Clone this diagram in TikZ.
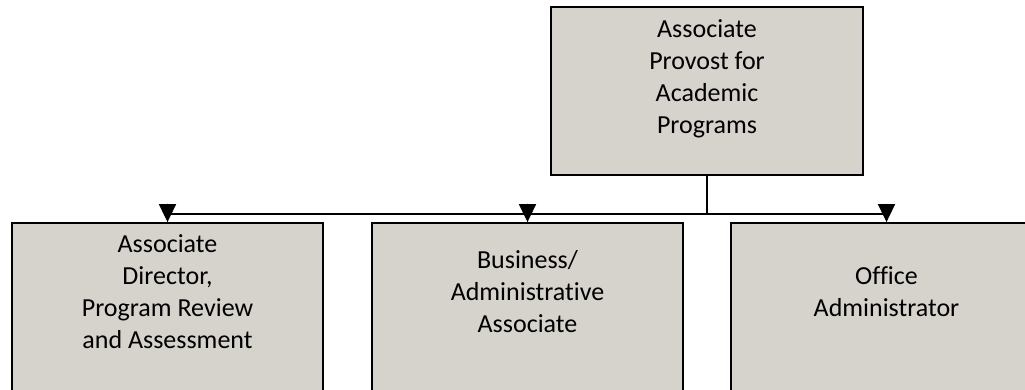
\documentclass[tikz,border=0pt]{standalone}
\usepackage{fontspec}
\setmainfont[Ligatures=NoCommon]{Carlito}
\usepackage{tikz}
\usetikzlibrary{arrows.meta}
\definecolor{boxgray}{RGB}{214,210,204}
\tikzset{
  orgbox/.style={draw=black,fill=boxgray,line width=1.8pt,inner sep=0pt,minimum width=311pt},
  orgtext/.style={align=center,inner sep=0pt,font=\fontsize{26}{32}\selectfont},
  orgline/.style={line width=1.8pt}
}

\begin{document}
\begin{tikzpicture}[line cap=round,>={Triangle[length=18pt,width=17pt]},x=1pt,y=1pt]
\useasboundingbox (0,0) rectangle (1025,390);
\clip (0,0) rectangle (1025,390);
% boxes
\node[orgbox,minimum width=312pt,minimum height=168pt] (apap) at (707,299) {};
\node[orgbox,minimum height=185pt] (adpr) at (167.5,74.5) {};
\node[orgbox,minimum height=185pt] (baa) at (527.5,74.5) {};
\node[orgbox,minimum height=185pt] (offadm) at (886.5,74.5) {};
% texts
\node[orgtext] (apaptext) at ([yshift=12pt]apap.center) {Associate\\Provost for\\Academic\\Programs};
\node[orgtext] (adprtext) at (167.5,98) {Associate\\Director,\\Program Review\\and Assessment};
\node[orgtext] (baatext) at (527.5,98) {Business/\\Administrative\\Associate};
\node[orgtext] (offadmtext) at (886.5,98) {Office\\Administrator};
% connectors
\coordinate (split) at (707,176);
\draw [orgline] (apap.south) -- (split);
\draw [orgline] (adpr.north |- split) -- (offadm.north |- split);
\draw [orgline,->] (adpr.north |- split) -- (adpr.north);
\draw [orgline,->] (baa.north |- split) -- (baa.north);
\draw [orgline,->] (offadm.north |- split) -- (offadm.north);
\end{tikzpicture}
\end{document}
